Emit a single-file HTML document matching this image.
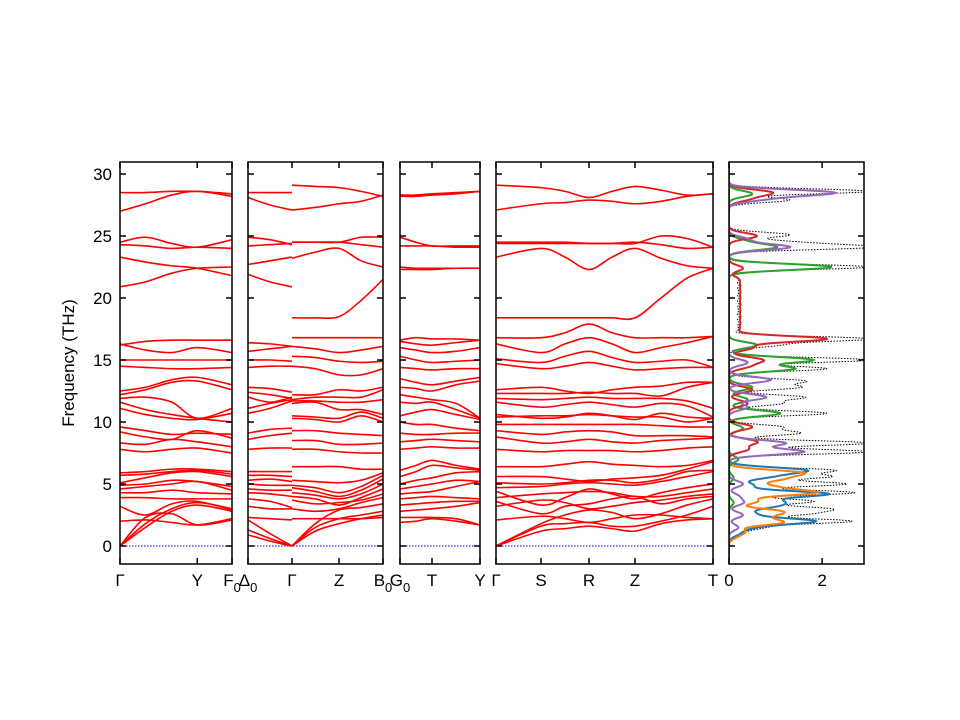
<!DOCTYPE html>
<html><head><meta charset="utf-8">
<style>
html,body{margin:0;padding:0;background:#fff;}
svg{display:block;font-family:"Liberation Sans","DejaVu Sans",sans-serif;}
</style></head>
<body>
<svg id="chart" width="960" height="720" viewBox="0 0 960 720" xmlns="http://www.w3.org/2000/svg">
<defs>
<clipPath id="c1"><rect x="120" y="162" width="112" height="402"/></clipPath>
<clipPath id="c2"><rect x="248" y="162" width="135" height="402"/></clipPath>
<clipPath id="c3"><rect x="400" y="162" width="80" height="402"/></clipPath>
<clipPath id="c4"><rect x="496" y="162" width="217" height="402"/></clipPath>
<clipPath id="c5"><rect x="729" y="162" width="135" height="402"/></clipPath>
</defs>
<g id="layer"></g>
<text x="74" y="363" font-size="17" text-anchor="middle" transform="rotate(-90 74 363)">Frequency (THz)</text>
</svg>
<script>
// ---- data ----
const yTicks = [0,5,10,15,20,25,30];
const dosTicks = [0,2];
const p1Labels = ["Γ","Y","F₀"];
const p2Labels = ["Δ₀","Γ","Z","B₀"];
const p3Labels = ["G₀","T","Y"];
const p4Labels = ["Γ","S","R","Z","T"];
const p1K = [0,1,1.45];
const p2K = [0,1,2.07,3.07];
const p3K = [0,1,2.5];
const p4K = [0,45,93,139,217];
const segA_k = [0,.33,.67,1,1.45];
const segA_bands = [
[28.5,28.5,28.6,28.6,28.4],[27.0,27.6,28.3,28.6,28.2],[24.5,24.9,24.4,24.1,24.7],[24.3,24.2,24.0,24.1,24.0],
[23.3,22.9,22.6,22.4,21.8],[20.9,21.3,22.0,22.4,22.5],[16.2,16.5,16.6,16.6,16.6],[16.3,15.8,15.6,16.0,15.6],
[15.0,15.0,15.0,15.0,15.0],[14.5,14.4,14.3,14.3,14.4],[12.5,12.8,13.4,13.6,13.0],[12.2,12.6,13.2,13.3,12.6],
[11.9,12.0,11.6,10.3,11.1],[11.6,11.0,10.6,10.3,10.0],[11.1,10.6,10.3,10.2,10.7],[9.6,9.3,9.0,9.1,9.0],
[9.2,8.8,8.6,9.3,8.7],[8.3,8.2,8.6,8.4,8.0],[7.8,7.6,7.8,7.9,7.5],[5.9,6.0,6.2,6.2,6.0],[5.7,5.8,6.0,6.1,5.8],
[5.1,5.5,5.9,6.0,5.6],[4.9,5.0,5.3,5.2,4.8],[4.6,4.8,5.0,5.2,4.5],[4.3,4.3,4.5,4.3,4.2],[3.9,3.9,3.8,3.8,3.8],
[3.2,2.5,3.4,3.6,2.9],[0,1.8,3.0,3.5,3.0],[0,1.5,2.8,3.3,2.8],[0,2.3,2.6,1.7,2.1],[2.0,2.1,1.9,1.7,2.2]];
const segC_k = [0,.5,1];
const segC_bands = [
[28.5,28.5,28.5],[28.1,27.5,27.1],[24.9,24.7,24.3],[24.2,24.3,24.4],[22.7,23.0,23.3],[21.9,21.3,20.9],
[16.4,16.3,16.1],[15.7,15.9,16.1],[15.0,15.0,14.9],[14.4,14.5,14.5],[12.8,12.7,12.4],[12.4,12.2,11.9],
[12.0,11.6,12.0],[11.1,11.5,11.8],[10.7,11.1,11.7],[9.1,9.4,9.5],[8.6,8.9,9.1],[7.8,7.9,7.9],[6.0,6.0,6.0],
[5.7,5.7,5.6],[5.3,5.4,5.2],[5.0,4.9,4.9],[4.6,4.5,4.5],[4.3,4.2,4.0],[3.8,3.6,3.1],[3.2,3.0,3.0],
[2.3,2.2,2.1],[2.1,1.0,0],[1.3,0.6,0],[0.9,0.4,0]];
const segD_k = [1,1.53,2.07,2.57,3.07];
const segD_bands = [
[29.1,29.0,28.9,28.6,28.2],[27.1,27.3,27.6,27.8,28.3],[24.5,24.5,24.5,24.9,24.9],[24.5,24.5,24.5,24.3,24.1],
[23.2,23.7,24.0,23.0,22.5],[18.4,18.4,18.5,19.8,21.5],[16.8,16.8,16.8,16.8,16.8],[16.1,15.9,15.6,15.8,16.1],
[15.3,15.2,14.9,14.8,14.9],[14.5,14.3,13.8,13.8,14.3],[12.2,12.2,12.6,12.5,12.8],[11.8,12.0,12.0,12.0,12.6],
[11.7,11.7,11.6,11.6,11.8],[11.5,11.6,11.0,11.0,10.6],[10.5,10.4,10.3,10.8,10.3],[10.3,10.2,10.0,10.5,10.0],
[9.3,9.3,9.1,9.0,8.9],[8.5,8.5,8.2,8.2,8.3],[7.8,7.8,7.6,7.5,7.5],[6.4,6.4,6.4,6.2,6.2],[5.3,5.2,5.1,5.3,5.9],
[4.9,4.7,4.3,4.8,5.7],[4.7,4.4,4.0,4.5,5.4],[4.3,4.1,3.8,4.2,5.0],[4.0,3.8,3.3,3.9,4.6],[3.7,3.4,3.5,3.7,4.2],
[3.0,2.8,3.0,3.5,3.9],[0,1.8,2.9,3.1,3.4],[0,1.5,2.2,2.5,2.8],[0,1.2,1.8,2.2,2.5],[2.2,2.2,2.2,2.2,2.3]];
const segF_k = [0,.5,1,1.75,2.5];
const segF_bands = [
[28.3,28.3,28.4,28.5,28.6],[28.2,28.2,28.3,28.4,28.6],[24.9,24.5,24.2,24.2,24.2],[24.2,24.2,24.2,24.1,24.1],
[22.5,22.4,22.4,22.4,22.4],[22.3,22.3,22.3,22.4,22.4],[16.6,16.8,16.7,16.7,16.6],[16.5,16.3,16.2,16.4,16.6],
[16.0,15.8,15.6,15.7,16.0],[15.3,15.0,14.8,14.9,15.0],[14.4,14.3,14.2,14.3,14.3],[13.5,13.2,13.0,13.3,13.6],
[12.8,12.7,12.5,13.0,13.3],[12.2,12.0,11.8,11.5,10.3],[11.6,11.5,11.6,11.0,10.3],[10.5,10.8,11.0,10.6,10.2],
[10.0,9.8,9.8,9.5,9.3],[9.1,9.0,9.0,9.1,9.1],[8.4,8.5,8.6,8.5,8.4],[7.8,7.9,8.0,7.9,7.9],[6.1,6.5,6.9,6.5,6.2],
[5.6,6.0,6.5,6.3,6.1],[5.0,5.3,5.5,5.9,6.0],[4.6,4.8,5.0,5.3,5.2],[4.2,4.3,4.4,4.8,5.2],[3.8,3.9,4.0,3.9,3.8],
[3.3,3.4,3.5,3.6,3.6],[2.8,2.9,3.0,3.2,3.5],[2.3,2.3,2.3,2.2,1.7],[1.9,2.0,2.2,2.0,1.7]];
const segH_k = [0,45,69,93,116,139,165,191,217];
const segH_bands = [
[29.1,28.9,28.6,28.1,28.6,29.0,28.7,28.3,28.4],[27.1,27.6,27.7,27.9,27.8,27.6,27.8,28.2,28.4],
[24.5,24.5,24.5,24.4,24.4,24.4,25.0,24.8,24.1],[24.4,24.4,24.4,24.4,24.4,24.5,24.3,24.0,24.1],
[23.3,24.0,23.3,22.3,23.3,24.0,23.2,22.6,22.4],[18.4,18.4,18.4,18.4,18.4,18.4,20.0,21.6,22.4],
[16.8,16.8,17.2,17.9,17.2,16.8,16.8,16.8,16.9],[16.3,15.6,16.3,16.8,16.3,15.6,16.0,16.4,16.9],
[15.1,14.8,15.3,15.7,15.2,14.8,14.9,15.0,14.4],[14.7,14.3,14.5,14.8,14.5,14.2,14.3,14.4,14.4],
[12.6,12.8,12.5,12.3,12.6,12.8,12.9,13.2,13.2],[12.3,12.3,12.3,12.4,12.3,12.3,12.1,12.8,13.2],
[11.9,11.8,11.9,12.0,11.9,11.9,11.9,11.7,11.1],[11.6,11.2,11.4,11.6,11.4,11.2,11.5,11.3,10.4],
[10.6,10.3,10.4,10.7,10.5,10.2,10.7,10.4,10.3],[10.4,10.5,10.5,10.6,10.5,10.4,10.4,10.0,10.3],
[9.8,9.8,9.8,9.8,9.8,9.8,9.7,9.6,9.6],[9.3,9.0,9.2,9.3,9.2,8.9,8.9,8.9,8.8],
[8.8,8.3,8.4,8.6,8.4,8.3,8.5,8.6,8.7],[7.8,7.6,7.7,7.7,7.7,7.6,7.7,7.9,8.0],
[6.4,6.4,6.6,6.8,6.6,6.5,6.4,6.5,6.9],[5.6,5.6,5.4,5.2,5.4,5.5,5.7,6.2,6.8],
[5.1,5.0,5.1,5.3,5.3,5.1,5.4,6.0,6.1],[4.7,4.8,5.0,5.1,5.0,4.9,5.2,5.6,6.0],
[4.4,3.3,3.9,4.6,4.2,3.8,4.3,4.7,5.0],[3.9,4.2,4.3,4.4,4.3,4.0,4.0,4.3,4.6],
[3.2,3.7,3.5,3.0,3.2,3.5,3.7,4.0,4.2],[3.6,2.6,3.2,3.4,3.8,4.0,3.4,3.8,4.0],
[2.1,2.4,2.2,1.9,2.2,2.5,2.5,2.3,2.2],[0,1.8,2.5,2.9,2.7,2.2,2.6,3.3,3.8],
[0,1.6,1.8,1.9,1.6,1.6,2.0,2.5,3.2],[0,1.2,1.4,1.6,1.4,1.2,1.8,2.1,2.2]];
// DOS peaks: [frequency THz, height]
const dosBlue = [[6.1,1.6],[5.6,0.8],[4.9,0.5],[4.2,2.1],[3.6,0.9],[3.2,0.8],[2.6,0.5],[2.0,1.8],[1.5,0.4],[1.0,0.2]];
const dosOrange = [[5.9,1.5],[5.4,1.0],[4.8,0.8],[4.3,1.8],[3.6,0.6],[2.8,1.0],[2.4,0.6],[1.9,1.1],[1.2,0.3],[0.8,0.15]];
const dosGreen = [[28.4,0.5],[24.1,1.0],[24.6,0.3],[22.5,2.2],[16.2,0.6],[15.0,1.8],[14.3,1.4],[12.8,0.5],[11.8,0.4],[10.7,1.1],[9.5,0.3],[7.0,0.2],[5.5,0.1],[3.5,0.1]];
const dosRed = [[28.5,0.9],[28.0,0.4],[25.0,0.6],[22.4,0.3],[21.5,0.2],[21.0,0.2],[20.5,0.2],[20.0,0.2],[19.5,0.2],[19.0,0.2],[18.5,0.2],[18.0,0.2],[17.5,0.2],[16.7,2.1],[16.0,0.5],[15.0,0.7],[14.5,0.4],[12.6,0.5],[11.5,0.4],[9.6,0.5],[8.4,0.6],[7.8,0.4]];
const dosPurple = [[28.5,2.2],[28.0,0.7],[24.1,1.3],[24.7,0.4],[14.8,0.4],[13.4,0.9],[12.0,0.8],[11.2,0.4],[8.3,1.2],[7.6,1.6],[5.0,0.3],[4.0,0.2],[3.5,0.3],[2.5,0.3],[1.5,0.2]];
const dosTotalPeaks = [[28.6,3.0],[27.9,1.3],[25.1,1.3],[24.5,1.2],[24.1,3.0],[22.5,3.0],[16.7,3.0],[16.2,1.0],[15.0,3.0],[14.3,2.1],[13.3,1.6],[12.8,1.5],[12.0,1.6],[11.5,1.1],[10.7,2.1],[9.6,1.1],[9.1,1.5],[8.3,3.0],[7.6,3.0],[6.1,2.2],[5.6,2.1],[5.0,2.5],[4.3,2.7],[3.6,1.8],[3.0,2.0],[2.6,1.5],[2.0,2.6],[1.5,0.7],[1.0,0.3],[21.5,0.2],[21.0,0.2],[20.5,0.2],[20.0,0.2],[19.5,0.2],[19.0,0.2],[18.5,0.2],[18.0,0.2],[17.5,0.2]];

// ---- drawing ----
const NS="http://www.w3.org/2000/svg";
const layer=document.getElementById('layer');
const Y0=546, PPT=12.4, TOP=162, BOT=564;
function yS(f){return Y0-f*PPT;}
function mk(tag,attrs,parent){const e=document.createElementNS(NS,tag);for(const k in attrs)e.setAttribute(k,attrs[k]);(parent||layer).appendChild(e);return e;}
const panels=[
 {x0:120,x1:232,kmax:1.45,ticks:p1K,labels:p1Labels,clip:'c1',segs:[[segA_k,segA_bands]],ylab:true,name:'panel-gamma-y'},
 {x0:248,x1:383,kmax:3.07,ticks:p2K,labels:p2Labels,clip:'c2',segs:[[segC_k,segC_bands],[segD_k,segD_bands]],name:'panel-delta-gamma-z'},
 {x0:400,x1:480,kmax:2.5,ticks:p3K,labels:p3Labels,clip:'c3',segs:[[segF_k,segF_bands]],name:'panel-g-t-y'},
 {x0:496,x1:713,kmax:217,ticks:p4K,labels:p4Labels,clip:'c4',segs:[[segH_k,segH_bands]],name:'panel-gamma-s-r-z-t'}];
function smoothPath(pts){
 let d=`M${pts[0][0].toFixed(2)},${pts[0][1].toFixed(2)}`;
 for(let i=0;i<pts.length-1;i++){
  const p0=pts[i-1]||pts[i],p1=pts[i],p2=pts[i+1],p3=pts[i+2]||p2;
  const c1=[p1[0]+(p2[0]-p0[0])/6,p1[1]+(p2[1]-p0[1])/6];
  const c2=[p2[0]-(p3[0]-p1[0])/6,p2[1]-(p3[1]-p1[1])/6];
  d+=` C${c1[0].toFixed(2)},${c1[1].toFixed(2)} ${c2[0].toFixed(2)},${c2[1].toFixed(2)} ${p2[0].toFixed(2)},${p2[1].toFixed(2)}`;
 }
 return d;
}
function yAxisTicks(x0,x1,withLabels,g){
 yTicks.forEach(t=>{
  const y=yS(t);
  const a=mk('line',{x1:x0,y1:y,x2:x0+6,y2:y,stroke:'#000','stroke-width':1.5},g);
  
  
  const b=mk('line',{x1:x1-6,y1:y,x2:x1,y2:y,stroke:'#000','stroke-width':1.5},g);
  
  
  if(withLabels){
   const tx=mk('text',{x:x0-8,y:y+6,'font-size':17,'text-anchor':'end'},g);
   tx.textContent=t;
   
   
  }
 });
}
panels.forEach(p=>{
 const g=mk('g',{});
 
 
 const xS=k=>p.x0+k/p.kmax*(p.x1-p.x0);
 const cg=mk('g',{'clip-path':`url(#${p.clip})`},g);
 const zl=mk('line',{x1:p.x0,y1:yS(0),x2:p.x1,y2:yS(0),stroke:'#0000ff','stroke-width':1,'stroke-dasharray':'1.5,1.5'},cg);
 
 
 p.segs.forEach(([ks,bands])=>{
  bands.forEach(b=>{
   const pts=ks.map((k,i)=>[xS(k),yS(b[i])]);
   const path=mk('path',{d:smoothPath(pts),fill:'none',stroke:'#ff0000','stroke-width':1.6},cg);
   
   
  });
 });
 const fr=mk('rect',{x:p.x0,y:TOP,width:p.x1-p.x0,height:BOT-TOP,fill:'none',stroke:'#000','stroke-width':1.5},g);
 
 
 yAxisTicks(p.x0,p.x1,!!p.ylab,g);
 p.ticks.forEach((k,i)=>{
  const x=xS(k);
  const t1=mk('line',{x1:x,y1:BOT,x2:x,y2:BOT-6,stroke:'#000','stroke-width':1.5},g);
  
  
  const t2=mk('line',{x1:x,y1:TOP,x2:x,y2:TOP+6,stroke:'#000','stroke-width':1.5},g);
  
  
  const lab=p.labels[i];
  const tx=mk('text',{x:x,y:BOT+22,'font-size':17,'text-anchor':'middle'},g);
  if(lab.length>1){
   tx.textContent=lab[0];
   const s=mk('tspan',{dy:6,'font-size':13},tx);
   s.textContent='0';
  } else tx.textContent=lab;
  
  
 });
});
// DOS panel
(function(){
 const x0=729,x1=864,vmax=2.9;
 const xS=v=>x0+v/vmax*(x1-x0);
 const g=mk('g',{});
 
 
 const cg=mk('g',{'clip-path':'url(#c5)'},g);
 function curve(peaks,sig){
  const pts=[];
  for(let f=-1;f<=31;f+=0.04){
   let v=0;peaks.forEach(([c,h])=>{v+=h*Math.exp(-((f-c)*(f-c))/(2*sig*sig));});
   pts.push([xS(v),yS(f)]);
  }
  return 'M'+pts.map(p=>p[0].toFixed(2)+','+p[1].toFixed(2)).join(' L');
 }
 const tot=mk('path',{d:curve(dosTotalPeaks,0.2),fill:'none',stroke:'#000','stroke-width':1,'stroke-dasharray':'1.5,1.5'},cg);
 
 
 const series=[[dosBlue,'#1f77b4','dos-blue'],[dosOrange,'#ff7f0e','dos-orange'],[dosGreen,'#2ca02c','dos-green'],[dosRed,'#d62728','dos-red'],[dosPurple,'#9467bd','dos-purple']];
 series.forEach(([pk,col,nm])=>{
  const pth=mk('path',{d:curve(pk,0.24),fill:'none',stroke:col,'stroke-width':2},cg);
  
  
 });
 const fr=mk('rect',{x:x0,y:TOP,width:x1-x0,height:BOT-TOP,fill:'none',stroke:'#000','stroke-width':1.5},g);
 
 
 yAxisTicks(x0,x1,false,g);
 dosTicks.forEach(t=>{
  const x=xS(t);
  const a=mk('line',{x1:x,y1:BOT,x2:x,y2:BOT-6,stroke:'#000','stroke-width':1.5},g);
  
  
  const b=mk('line',{x1:x,y1:TOP,x2:x,y2:TOP+6,stroke:'#000','stroke-width':1.5},g);
  
  
  const tx=mk('text',{x:x,y:BOT+22,'font-size':17,'text-anchor':'middle'},g);
  tx.textContent=t;
  
  
 });
})();
</script>
</body></html>
